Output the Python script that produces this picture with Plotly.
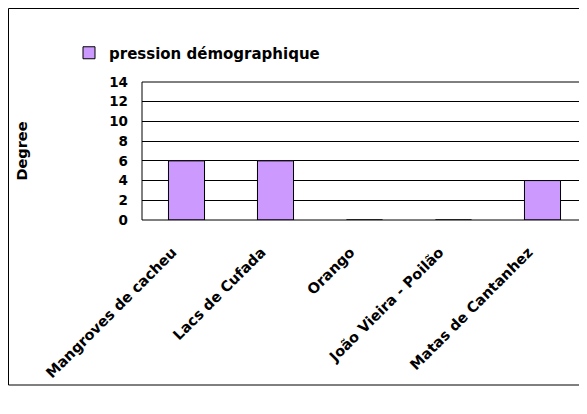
import plotly.graph_objects as go

categories = ["Mangroves de cacheu", "Lacs de Cufada", "Orango", "João Vieira - Poilão", "Matas de Cantanhez"]
pression_demographique = [6, 6, 0, 0, 4]
y_ticks = [0, 2, 4, 6, 8, 10, 12, 14]

# page has an 8px body margin; figure is sized to fill the rest of the window
W, H = 579, 406
L, R, T, B = 134, 0, 74, 194
pw, ph = W - L - R, H - T - B

def px_x(fx):
    return (fx - L) / pw

def px_y(fy):
    return (H - B - fy) / ph

font_family = "DejaVu Sans, Verdana, sans-serif"

fig = go.Figure()
fig.add_trace(go.Bar(
    x=categories,
    y=pression_demographique,
    name="pression démographique",
    width=0.405,
    marker=dict(color="#CC99FF", line=dict(color="black", width=1)),
))

fig.update_layout(
    width=W, height=H,
    margin=dict(l=L, r=R, t=T, b=B, pad=0),
    paper_bgcolor="white", plot_bgcolor="white",
    font=dict(family=font_family, size=14, color="black", weight="bold"),
    showlegend=True,
    legend=dict(
        x=px_x(61), y=px_y(45), xanchor="left", yanchor="middle",
        font=dict(size=15, weight="bold"), bgcolor="rgba(0,0,0,0)",
        itemwidth=30,
    ),
    xaxis=dict(
        range=[-0.5, 4.5],
        tickangle=-45, tickfont=dict(size=14.5, weight="bold"),
        showgrid=False, zeroline=False, showline=False, ticks="",
        ticklabelstandoff=20, ticklabelshift=-14,
    ),
    yaxis=dict(
        range=[0, 14], tickmode="array", tickvals=y_ticks,
        tickfont=dict(size=13.5, weight="bold"),
        showgrid=True, gridcolor="black", gridwidth=1,
        zeroline=False, showline=False, ticks="",
        ticklabelstandoff=13,
        title=dict(text="Degree", font=dict(size=14.5, weight="bold"), standoff=78),
    ),
)

# plot area border
fig.add_shape(type="rect", xref="paper", yref="paper", x0=0, x1=1.05, y0=0, y1=1,
              line=dict(color="black", width=1))
# outer chart border
fig.add_shape(type="rect", xref="paper", yref="paper",
              x0=px_x(0.5), x1=1.1, y0=px_y(377), y1=px_y(0.5),
              line=dict(color="black", width=1))

fig.write_html("out.html")
